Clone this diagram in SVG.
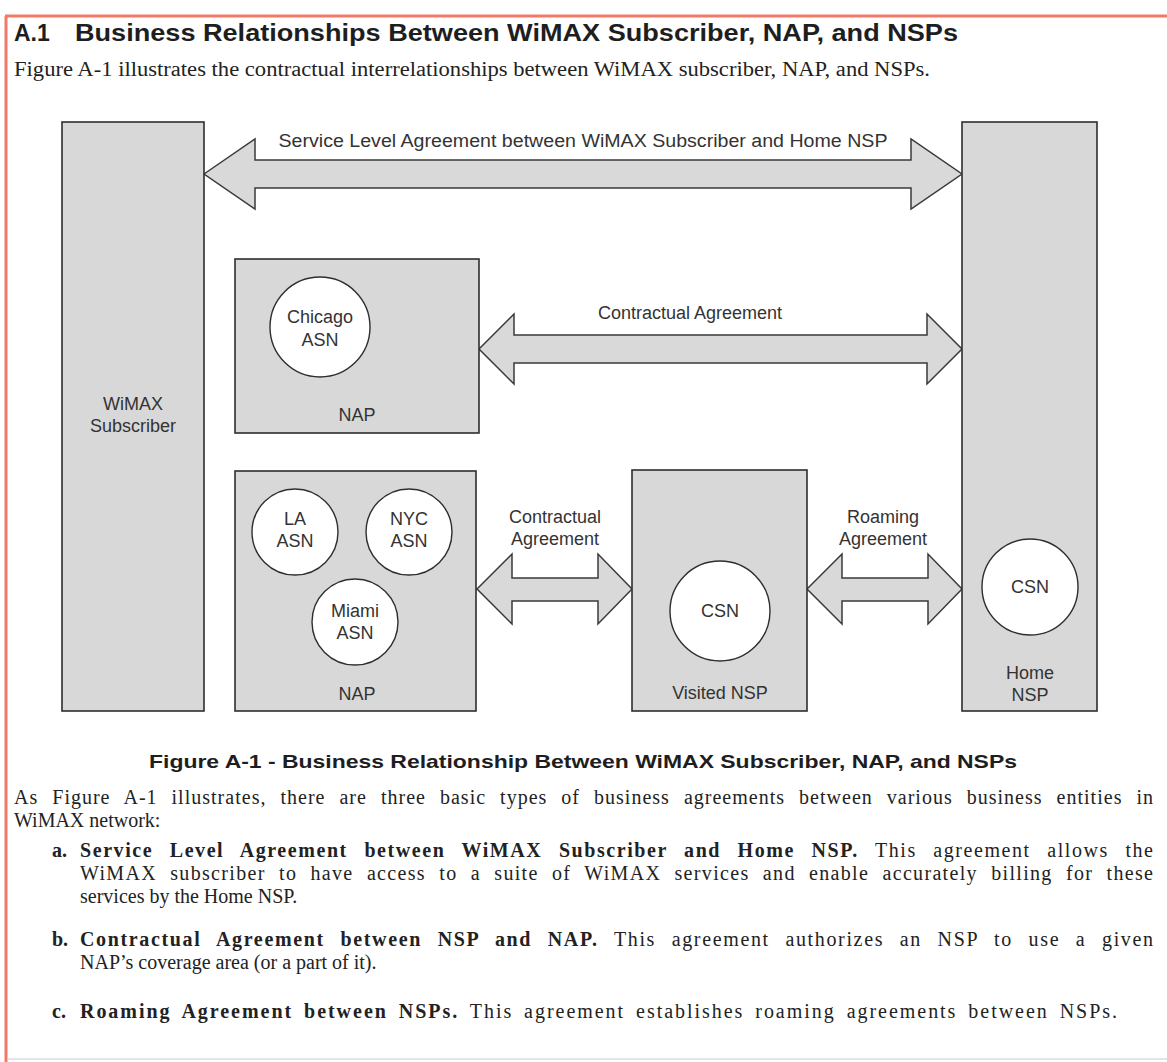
<svg xmlns="http://www.w3.org/2000/svg" width="1167" height="1062" viewBox="0 0 1167 1062">
<style>
.box{fill:#d8d8d8;stroke:#2e2e2e;stroke-width:1.6}
.circ{fill:#ffffff;stroke:#2e2e2e;stroke-width:1.4}
.arrow{fill:#d9d9d9;stroke:#3a3a3a;stroke-width:1.5;stroke-linejoin:miter}
.lbl{font-family:"Liberation Sans",Arial,sans-serif;font-size:18px;fill:#333;text-anchor:middle}
.hd{font-family:"Liberation Sans",Arial,sans-serif;font-size:23px;font-weight:bold;fill:#1e1e1e}
.cap{font-family:"Liberation Sans",Arial,sans-serif;font-size:19px;font-weight:bold;fill:#1e1e1e}
.body{font-family:"Liberation Serif","Times New Roman",serif;font-size:20px;fill:#222}
.b{font-weight:bold}
</style>
<rect x="0" y="0" width="1167" height="1062" fill="#ffffff"/>
<g id="frame">
<line x1="5" y1="16" x2="1167" y2="16" stroke="#ef7a68" stroke-width="3"/>
<line x1="6" y1="16" x2="6" y2="1062" stroke="#ef7a68" stroke-width="3"/>
<line x1="8" y1="1059" x2="1167" y2="1059" stroke="#e4e4e4" stroke-width="2"/>
</g>
<g id="heading">
<text class="hd" x="14" y="41">A.1</text>
<text class="hd" x="75" y="41" textLength="883" lengthAdjust="spacingAndGlyphs">Business Relationships Between WiMAX Subscriber, NAP, and NSPs</text>
<text class="body" x="14" y="76" font-size="21" textLength="916" lengthAdjust="spacingAndGlyphs">Figure A-1 illustrates the contractual interrelationships between WiMAX subscriber, NAP, and NSPs.</text>
</g>
<g id="connectors">
<g id="sla-arrow">
<path class="arrow" d="M204,174 L255,139 L255,160 L911,160 L911,139 L962,174 L911,209 L911,188 L255,188 L255,209 Z"/>
<text class="lbl" x="583" y="147" textLength="609" lengthAdjust="spacingAndGlyphs">Service Level Agreement between  WiMAX Subscriber and Home NSP</text>
</g>
<g id="contract-arrow-1">
<path class="arrow" d="M479,349 L514,314 L514,335 L927,335 L927,314 L962,349 L927,384 L927,363 L514,363 L514,384 Z"/>
<text class="lbl" x="690" y="319">Contractual Agreement</text>
</g>
<g id="contract-arrow-2">
<path class="arrow" d="M477,589 L512,554 L512,578 L598,578 L598,554 L632,589 L598,624 L598,601 L512,601 L512,624 Z"/>
<text class="lbl" x="555" y="523">Contractual</text>
<text class="lbl" x="555" y="545">Agreement</text>
</g>
<g id="roaming-arrow">
<path class="arrow" d="M807,589 L842,554 L842,578 L928,578 L928,554 L962,589 L928,624 L928,601 L842,601 L842,624 Z"/>
<text class="lbl" x="883" y="523">Roaming</text>
<text class="lbl" x="883" y="545">Agreement</text>
</g>
</g>
<g id="wimax-subscriber">
<rect class="box" x="62" y="122" width="142" height="589"/>
<text class="lbl" x="133" y="410">WiMAX</text>
<text class="lbl" x="133" y="432">Subscriber</text>
</g>
<g id="home-nsp">
<rect class="box" x="962" y="122" width="135" height="589"/>
<circle class="circ" cx="1030" cy="587" r="48"/>
<text class="lbl" x="1030" y="593">CSN</text>
<text class="lbl" x="1030" y="679">Home</text>
<text class="lbl" x="1030" y="701">NSP</text>
</g>
<g id="nap-chicago">
<rect class="box" x="235" y="259" width="244" height="174"/>
<circle class="circ" cx="320" cy="327" r="50"/>
<text class="lbl" x="320" y="323">Chicago</text>
<text class="lbl" x="320" y="346">ASN</text>
<text class="lbl" x="357" y="421">NAP</text>
</g>
<g id="nap-multi">
<rect class="box" x="235" y="471" width="241" height="240"/>
<circle class="circ" cx="295" cy="532" r="43"/>
<text class="lbl" x="295" y="525">LA</text>
<text class="lbl" x="295" y="547">ASN</text>
<circle class="circ" cx="409" cy="532" r="43"/>
<text class="lbl" x="409" y="525">NYC</text>
<text class="lbl" x="409" y="547">ASN</text>
<circle class="circ" cx="355" cy="622" r="43"/>
<text class="lbl" x="355" y="617">Miami</text>
<text class="lbl" x="355" y="639">ASN</text>
<text class="lbl" x="357" y="700">NAP</text>
</g>
<g id="visited-nsp">
<rect class="box" x="632" y="470" width="175" height="241"/>
<circle class="circ" cx="720" cy="611" r="50"/>
<text class="lbl" x="720" y="617">CSN</text>
<text class="lbl" x="720" y="699">Visited NSP</text>
</g>
<g id="caption">
<text class="cap" x="149" y="768" textLength="868" lengthAdjust="spacingAndGlyphs">Figure A-1 - Business Relationship Between WiMAX Subscriber, NAP, and NSPs</text>
</g>
<g id="body-text">
<text class="body" x="14" y="804" word-spacing="8" textLength="1139" lengthAdjust="spacing">As Figure A-1 illustrates, there are three basic types of business agreements between various business entities in</text>
<text class="body" x="14" y="827">WiMAX network:</text>
<text class="body b" x="52" y="857">a.</text>
<text class="body" x="80" y="857" word-spacing="10" textLength="1073" lengthAdjust="spacing"><tspan class="b">Service Level Agreement between WiMAX Subscriber and Home NSP.</tspan> This agreement allows the</text>
<text class="body" x="80" y="880" word-spacing="7" textLength="1073" lengthAdjust="spacing">WiMAX subscriber to have access to a suite of WiMAX services and enable accurately billing for these</text>
<text class="body" x="80" y="903">services by the Home NSP.</text>
<text class="body b" x="52" y="946">b.</text>
<text class="body" x="80" y="946" word-spacing="9" textLength="1073" lengthAdjust="spacing"><tspan class="b">Contractual Agreement between NSP and NAP.</tspan>  This agreement authorizes an NSP to use a given</text>
<text class="body" x="80" y="969">NAP’s coverage area (or a part of it).</text>
<text class="body b" x="52" y="1018">c.</text>
<text class="body" x="80" y="1018" font-size="21" word-spacing="4" textLength="1037" lengthAdjust="spacing"><tspan class="b">Roaming Agreement between NSPs.</tspan> This agreement establishes roaming agreements between NSPs.</text>
</g>
</svg>
